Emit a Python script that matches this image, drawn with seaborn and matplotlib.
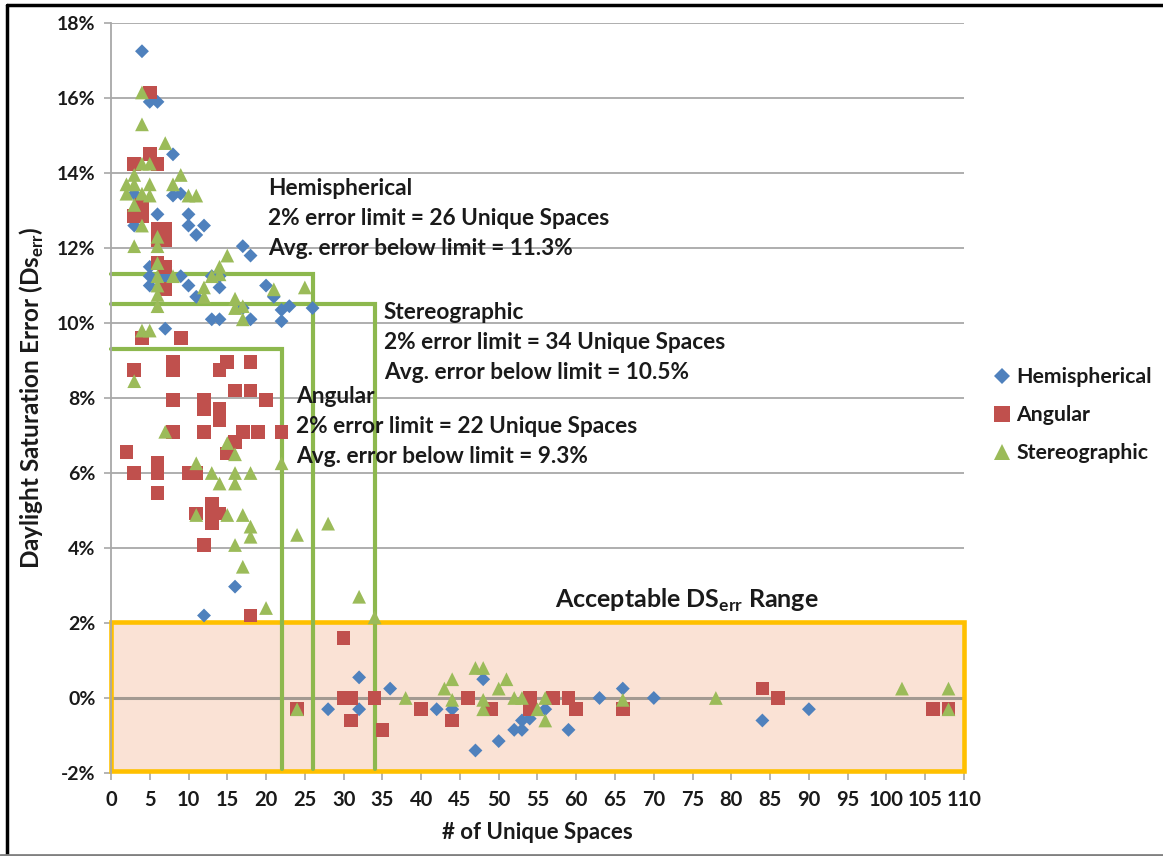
import matplotlib
matplotlib.use("Agg")
import matplotlib.pyplot as plt
import matplotlib.ticker as mticker
from matplotlib.patches import Rectangle
from matplotlib.lines import Line2D
import pandas as pd
import seaborn as sns

# ---- data: (# of unique spaces, daylight saturation error in %) ----
hemi_x = [4, 5, 6, 8, 3, 8, 9, 6, 3, 10, 10, 12, 11, 17, 18, 5, 7, 5, 7, 9, 13, 14,
          5, 7, 10, 14, 11, 13, 14, 18, 17, 20, 21, 22, 23, 22, 26, 7, 16, 12,
          28, 32, 32, 36, 42, 44, 47, 48, 50, 52, 53, 53, 54, 56, 59, 63, 66, 70, 84, 90]
hemi_y = [17.25, 15.9, 15.9, 14.5, 13.45, 13.4, 13.45, 12.9, 12.6, 12.9, 12.6, 12.6, 12.35,
          12.05, 11.8, 11.5, 11.5, 11.25, 11.25, 11.25, 11.25, 11.25, 11.0, 11.0, 11.0,
          10.95, 10.7, 10.1, 10.1, 10.1, 10.4, 11.0, 10.7, 10.35, 10.45, 10.05, 10.4,
          9.85, 2.97, 2.2,
          -0.3, 0.55, -0.3, 0.25, -0.3, -0.3, -1.4, 0.5, -1.15, -0.85, -0.85, -0.6,
          -0.55, -0.3, -0.85, 0.0, 0.25, 0.0, -0.6, -0.3]

ang_x = [5, 5, 3, 6, 4, 3, 4, 6, 7, 6, 7, 6, 7, 7, 4, 9, 3, 8, 8, 15, 14, 18, 16, 18,
         8, 12, 12, 14, 14, 20, 8, 12, 17, 19, 22, 16, 15, 2, 3, 6, 6, 6, 10, 11,
         11, 13, 13, 14, 13, 12, 18,
         24, 30, 30, 31, 31, 34, 35, 40, 44, 46, 49, 54, 54, 57, 59, 60, 66, 84, 86,
         106, 108]
ang_y = [16.15, 14.5, 14.25, 14.25, 13.15, 12.85, 12.85, 12.5, 12.5, 12.2, 12.2, 11.6,
         11.5, 10.9, 9.6, 9.6, 8.75, 8.97, 8.75, 8.97, 8.75, 8.97, 8.2, 8.2,
         7.95, 7.95, 7.7, 7.7, 7.4, 7.95, 7.1, 7.1, 7.1, 7.1, 7.1, 6.83, 6.52, 6.57,
         6.0, 6.26, 6.0, 5.46, 6.0, 6.0, 4.92, 5.19, 4.92, 4.92, 4.66, 4.08, 2.2,
         -0.3, 1.6, 0.0, 0.0, -0.6, 0.0, -0.85, -0.3, -0.6, 0.0, -0.3, 0.0, -0.3,
         0.0, 0.0, -0.3, -0.3, 0.25, 0.0, -0.3, -0.3]

stereo_x = [4, 4, 7, 4, 5, 9, 3, 2, 3, 5, 8, 2, 4, 5, 10, 11, 3, 4, 6, 3, 6, 15, 14,
            6, 13, 14, 8, 6, 6, 12, 12, 6, 6, 16, 16, 17, 17, 21, 25, 4, 5, 3, 7,
            15, 16, 22, 11, 13, 14, 16, 16, 18, 11, 15, 17, 18, 18, 24, 16, 17, 20,
            28, 32, 34,
            24, 38, 43, 44, 44, 47, 48, 48, 48, 50, 51, 52, 53, 55, 56, 56, 66, 78,
            102, 108, 108]
stereo_y = [16.15, 15.3, 14.8, 14.25, 14.25, 13.95, 13.95, 13.7, 13.7, 13.7, 13.7,
            13.45, 13.45, 13.4, 13.4, 13.4, 13.15, 12.6, 12.3, 12.05, 12.05, 11.8,
            11.5, 11.6, 11.25, 11.3, 11.25, 11.25, 11.0, 10.95, 10.7, 10.75, 10.45,
            10.65, 10.4, 10.45, 10.1, 10.9, 10.95, 9.8, 9.8, 8.45, 7.1,
            6.8, 6.5, 6.26, 6.26, 6.0, 5.72, 6.0, 5.72, 6.0, 4.88, 4.88, 4.88, 4.57,
            4.3, 4.35, 4.08, 3.5, 2.4, 4.65, 2.7, 2.15,
            -0.3, 0.0, 0.25, 0.5, -0.05, 0.8, 0.8, -0.05, -0.3, 0.25, 0.5, 0.0, 0.0,
            -0.3, 0.0, -0.6, -0.05, 0.0, 0.25, 0.25, -0.3]

# error-limit summaries per projection
limit_names = ["Hemispherical", "Stereographic", "Angular"]
limit_spaces = [26, 34, 22]
limit_avg_err = [11.3, 10.5, 9.3]

series_names = ["Hemispherical", "Angular", "Stereographic"]
x_ticks = list(range(0, 111, 5))
y_ticks = list(range(-2, 19, 2))

# ---- tidy frame ----
df = pd.concat([
    pd.DataFrame({"spaces": hemi_x, "err": hemi_y, "method": "Hemispherical"}),
    pd.DataFrame({"spaces": ang_x, "err": ang_y, "method": "Angular"}),
    pd.DataFrame({"spaces": stereo_x, "err": stereo_y, "method": "Stereographic"}),
], ignore_index=True)

sns.set_theme(style="white")
plt.rcParams["font.family"] = ["Lato", "DejaVu Sans"]
plt.rcParams["mathtext.fontset"] = "custom"
plt.rcParams["mathtext.rm"] = "Lato"
plt.rcParams["mathtext.bf"] = "Lato:bold"

colors = {"Hemispherical": "#4F81BD", "Angular": "#C0504D", "Stereographic": "#9BBB59"}
markers = {"Hemispherical": "D", "Angular": "s", "Stereographic": "^"}
sizes = {"Hemispherical": 50, "Angular": 98, "Stereographic": 98}
line_green = "#8DB84E"
text_col = "#1A1A1A"

fig = plt.figure(figsize=(11.63, 8.56), dpi=100)
ax = fig.add_axes([0.0954, 0.097, 0.7335, 0.876])

ax.set_xlim(0, 110)
ax.set_ylim(-2, 18)

# acceptable range band
ax.add_patch(Rectangle((0, -1.96), 110, 3.98, facecolor="#FAE2D5", edgecolor="none", zorder=0))

# gridlines and zero line
ax.set_yticks(y_ticks)
ax.set_xticks(x_ticks)
ax.yaxis.grid(True, color="#A8A8A8", lw=1.3, zorder=0.5)
ax.set_axisbelow(True)
ax.axhline(0, color="#A39A92", lw=2.2, zorder=1)

# band outline
ax.add_patch(Rectangle((0, -1.96), 110, 3.98, facecolor="none", edgecolor="#FFC000",
                       lw=3.3, zorder=2, clip_on=False))

# error-limit guide lines
for spaces, avg in zip(limit_spaces, limit_avg_err):
    ax.plot([0, spaces, spaces], [avg, avg, -1.9], color=line_green, lw=3.0,
            zorder=2.5, solid_joinstyle="miter", clip_on=False)

# scatter series
for name in series_names:
    sub = df[df["method"] == name]
    sns.scatterplot(data=sub, x="spaces", y="err", marker=markers[name],
                    color=colors[name], s=sizes[name], edgecolor="none",
                    linewidth=0, ax=ax, legend=False, zorder=3)

# annotations
block_pos = {"Hemispherical": (20.3, 13.6), "Stereographic": (35.2, 10.29), "Angular": (23.9, 8.03)}
for name, spaces, avg in zip(limit_names, limit_spaces, limit_avg_err):
    x0, y0 = block_pos[name]
    lines = [name, f"2% error limit = {spaces} Unique Spaces",
             f"Avg. error below limit = {avg:.1f}%"]
    for i, s in enumerate(lines):
        ax.text(x0, y0 - 0.8 * i, s, fontsize=16.3, fontweight="bold", color=text_col,
                ha="left", va="center", zorder=4)

ax.text(74.3, 2.6, r"Acceptable DS$_{\mathbf{err}}$ Range", fontsize=18, fontweight="bold",
        color=text_col, ha="center", va="center", zorder=4)

# axes styling
for side in ["top", "right", "bottom"]:
    ax.spines[side].set_visible(False)
ax.spines["left"].set_color("#A8A8A8")
ax.spines["left"].set_linewidth(1.3)
ax.spines["left"].set_zorder(2.6)

ax.yaxis.set_major_formatter(mticker.FuncFormatter(lambda v, p: f"{v:.0f}%"))
ax.tick_params(axis="both", which="major", direction="out", length=5, width=1.2,
               color="#A8A8A8", labelcolor=text_col)
ax.tick_params(axis="x", pad=7, bottom=True, labelsize=14.5)
ax.tick_params(axis="y", pad=6, left=True, labelsize=14)
for lab in ax.get_xticklabels() + ax.get_yticklabels():
    lab.set_fontweight("bold")

ax.set_xlabel("# of Unique Spaces", fontsize=16, fontweight="bold", color=text_col, labelpad=9)
ax.set_ylabel(r"Daylight Saturation Error (Ds$_{\mathbf{err}}$)", fontsize=17.5,
              fontweight="bold", color=text_col, labelpad=8)

# legend
handles = [Line2D([], [], ls="none", marker=markers[n], color=colors[n],
                  markersize={"Hemispherical": 8.5, "Angular": 11.5, "Stereographic": 11.5}[n],
                  markeredgewidth=0) for n in series_names]
fig.legend(handles, series_names, loc="center left", bbox_to_anchor=(0.840, 0.515),
           frameon=False, prop={"weight": "bold", "size": 15.3}, handlelength=0.6,
           handletextpad=0.35, labelspacing=0.85, labelcolor=text_col)

# figure frame
fig.add_artist(Line2D([7 / 1163, 7 / 1163], [0, 1 - 5 / 856], transform=fig.transFigure,
                      color="black", lw=2.5))
fig.add_artist(Line2D([7 / 1163, 1], [1 - 5 / 856, 1 - 5 / 856], transform=fig.transFigure,
                      color="black", lw=2.5))
fig.add_artist(Line2D([0, 1], [1.5 / 856, 1.5 / 856], transform=fig.transFigure,
                      color="#808080", lw=2))

fig.savefig("out.png", dpi=100, facecolor="white")
